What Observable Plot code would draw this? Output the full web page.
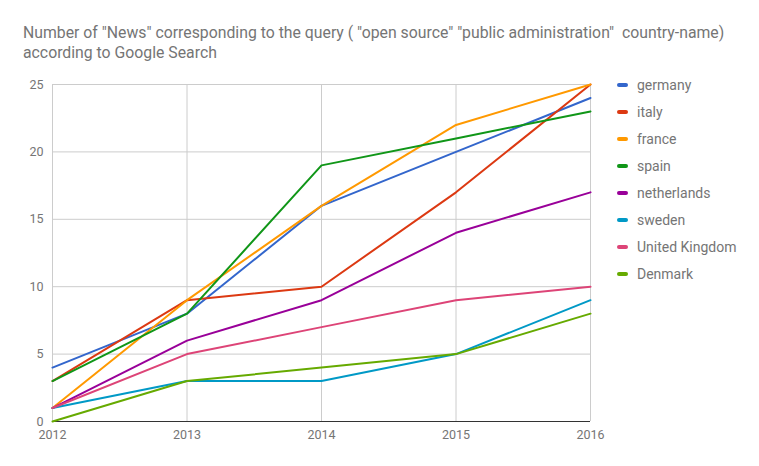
<!DOCTYPE html>
<html>
<head>
<meta charset="utf-8">
<script src="https://cdn.jsdelivr.net/npm/d3@7"></script>
<script src="https://cdn.jsdelivr.net/npm/@observablehq/plot@0.6"></script>
<style>
  body { margin: 0; background: #fff; font-family: Roboto, sans-serif; }
  #wrap { position: relative; width: 759px; height: 466px; }
  #title { position: absolute; left: 23px; top: 23px; font-size: 15.8px; line-height: 20px; color: #757575; white-space: pre; }
  #chart { position: absolute; left: 0; top: 66px; }
  #legend { position: absolute; left: 617px; top: 76px; font-size: 14px; color: #757575; }
  .item { height: 27px; display: flex; align-items: flex-start; line-height: 18px; }
  .sw { width: 11px; height: 4px; border-radius: 2px; margin-top: 7px; margin-right: 9px; }
</style>
</head>
<body>
<div id="wrap">
  <div id="title">Number of "News" corresponding to the query ( "open source" "public administration"  country-name)
according to Google Search</div>
  <div id="chart"></div>
  <div id="legend"></div>
</div>
<script>
const years = [2012, 2013, 2014, 2015, 2016];
const countries = ["germany", "italy", "france", "spain", "netherlands", "sweden", "United Kingdom", "Denmark"];
const colors = ["#3366cc", "#dc3912", "#ff9900", "#109618", "#990099", "#0099c6", "#dd4477", "#66aa00"];
const germany = [4, 8, 16, 20, 24];
const italy = [3, 9, 10, 17, 25];
const france = [1, 9, 16, 22, 25];
const spain = [3, 8, 19, 21, 23];
const netherlands = [1, 6, 9, 14, 17];
const sweden = [1, 3, 3, 5, 9];
const unitedKingdom = [1, 5, 7, 9, 10];
const denmark = [0, 3, 4, 5, 8];
const yTicks = [0, 5, 10, 15, 20, 25];

const seriesValues = [germany, italy, france, spain, netherlands, sweden, unitedKingdom, denmark];
const data = [];
countries.forEach((c, i) => years.forEach((y, j) => data.push({country: c, year: y, value: seriesValues[i][j]})));

const chart = Plot.plot({
  width: 759,
  height: 400,
  marginTop: 18,
  marginBottom: 45,
  marginLeft: 52,
  marginRight: 169,
  style: {fontFamily: "Roboto, sans-serif", fontSize: "12.5px", color: "#757575", background: "transparent"},
  x: {domain: [2012, 2016], ticks: years, tickFormat: d => String(d), tickSize: 0, tickPadding: 9, label: null},
  y: {domain: [0, 25], ticks: yTicks, tickSize: 0, tickPadding: 9, label: null},
  color: {domain: countries, range: colors},
  marks: [
    Plot.ruleY(yTicks.filter(d => d > 0), {stroke: "#cccccc", strokeOpacity: 1}),
    Plot.ruleX(years, {stroke: "#cccccc", strokeOpacity: 1}),
    Plot.ruleY([0], {stroke: "#333333", strokeWidth: 1}),
    Plot.line(data, {x: "year", y: "value", z: "country", stroke: "country", strokeWidth: 2, curve: "linear"})
  ]
});
document.getElementById("chart").appendChild(chart);

const legend = document.getElementById("legend");
countries.forEach((c, i) => {
  const item = document.createElement("div");
  item.className = "item";
  const sw = document.createElement("div");
  sw.className = "sw";
  sw.style.background = colors[i];
  const t = document.createElement("span");
  t.textContent = c;
  item.appendChild(sw);
  item.appendChild(t);
  legend.appendChild(item);
});
</script>
</body>
</html>
